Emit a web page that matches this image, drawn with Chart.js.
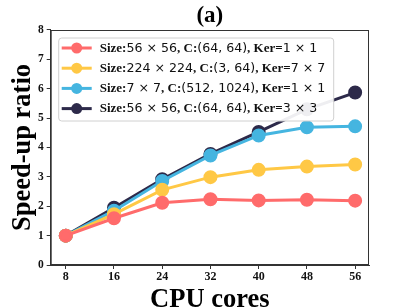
<!DOCTYPE html>
<html>
<head>
<meta charset="utf-8">
<script src="https://cdn.jsdelivr.net/npm/chart.js@4"></script>
<style>
  html, body { margin: 0; padding: 0; background: #fff; }
  #wrap { width: 411px; height: 308px; }
</style>
</head>
<body>
<div id="wrap"><canvas id="speedChart" width="411" height="308"></canvas></div>
<script>
// data
var cores = [8, 16, 24, 32, 40, 48, 56];
var conv1x1 = [1, 1.59, 2.12, 2.24, 2.20, 2.22, 2.19];
var conv7x7 = [1, 1.73, 2.56, 2.99, 3.24, 3.35, 3.42];
var conv7big = [1, 1.85, 2.86, 3.73, 4.41, 4.69, 4.72];
var conv3x3 = [1, 1.95, 2.92, 3.78, 4.53, 5.30, 5.87];
var yTicks = [0, 1, 2, 3, 4, 5, 6, 7, 8];

var colors = ['#FF6B6B', '#FFC845', '#45B5E0', '#2D2A4A'];
// legend labels, split into [text, isMath] pieces (math parts use a sans font)
var legendParts = [
  [['Size:', 0], ['56 \u00d7 56', 1], [', C:', 0], ['(64, 64)', 1], [', Ker=', 0], ['1 \u00d7 1', 1]],
  [['Size:', 0], ['224 \u00d7 224', 1], [', C:', 0], ['(3, 64)', 1], [', Ker=', 0], ['7 \u00d7 7', 1]],
  [['Size:', 0], ['7 \u00d7 7', 1], [', C:', 0], ['(512, 1024)', 1], [', Ker=', 0], ['1 \u00d7 1', 1]],
  [['Size:', 0], ['56 \u00d7 56', 1], [', C:', 0], ['(64, 64)', 1], [', Ker=', 0], ['3 \u00d7 3', 1]]
];
var seriesValues = [conv1x1, conv7x7, conv7big, conv3x3];

var serif = '"Liberation Serif", "Times New Roman", serif';

function toPoints(vals) {
  return vals.map(function (v, i) { return { x: cores[i], y: v }; });
}

var datasets = seriesValues.map(function (vals, i) {
  return {
    label: legendParts[i].map(function (p) { return p[0]; }).join(''),
    data: toPoints(vals),
    borderColor: colors[i],
    backgroundColor: colors[i],
    pointBackgroundColor: colors[i],
    pointBorderColor: colors[i],
    borderWidth: 3,
    pointRadius: 5.5,
    pointHoverRadius: 5.5,
    tension: 0
  };
});

// box around the whole plot + legend drawn inside, like matplotlib
var framePlugin = {
  id: 'frame',
  afterDraw: function (chart) {
    var ctx = chart.ctx, a = chart.chartArea;
    ctx.save();
    ctx.strokeStyle = '#333';
    ctx.lineWidth = 1;
    ctx.strokeRect(a.left + 0.5, a.top + 0.5, a.right - a.left - 1, a.bottom - a.top - 1);

    // legend
    var bx = a.left + 8, by = a.top + 8, bw = 275, bh = 83;
    ctx.globalAlpha = 0.92;
    ctx.fillStyle = '#fff';
    ctx.beginPath();
    ctx.roundRect(bx, by, bw, bh, 3);
    ctx.fill();
    ctx.globalAlpha = 1;
    ctx.strokeStyle = '#d0d0d0';
    ctx.lineWidth = 1;
    ctx.stroke();

    for (var i = 0; i < legendParts.length; i++) {
      var ry = by + 10 + i * 20.2;
      ctx.strokeStyle = colors[i];
      ctx.fillStyle = colors[i];
      ctx.lineWidth = 3;
      ctx.beginPath();
      ctx.moveTo(bx + 3, ry);
      ctx.lineTo(bx + 33, ry);
      ctx.stroke();
      ctx.beginPath();
      ctx.arc(bx + 18, ry, 5.5, 0, Math.PI * 2);
      ctx.fill();

      var tx = bx + 41;
      ctx.fillStyle = '#111';
      ctx.textBaseline = 'middle';
      legendParts[i].forEach(function (p) {
        ctx.font = p[1] ? '12.6px "DejaVu Sans"' : 'bold 13px ' + serif;
        ctx.fillText(p[0], tx, ry + 0.5);
        tx += ctx.measureText(p[0]).width;
      });
    }
    ctx.restore();
  }
};

var ctx = document.getElementById('speedChart').getContext('2d');
var chart = new Chart(ctx, {
  type: 'line',
  data: { datasets: datasets },
  options: {
    responsive: false,
    animation: false,
    layout: { padding: { left: 0, right: 42, top: 0, bottom: 0 } },
    plugins: {
      legend: { display: false },
      tooltip: { enabled: false },
      title: {
        display: true,
        fullSize: false,
        text: '(a)',
        color: '#000',
        font: { family: serif, size: 23, weight: 'bold', lineHeight: 1.2 },
        padding: { top: 2, bottom: 0.4 }
      }
    },
    scales: {
      x: {
        type: 'linear',
        min: 5.5,
        max: 58.3,
        afterBuildTicks: function (s) { s.ticks = cores.map(function (c) { return { value: c }; }); },
        afterFit: function (s) { s.height = 43; },
        grid: { drawOnChartArea: false, drawTicks: true, tickLength: 4, color: '#333' },
        border: { color: '#333', width: 1 },
        ticks: { color: '#111', font: { family: serif, size: 12, weight: 'bold', lineHeight: 1 }, padding: 2, maxRotation: 0 },
        title: {
          display: true,
          text: 'CPU cores',
          color: '#000',
          font: { family: serif, size: 26.5, weight: 'bold', lineHeight: 0.58 },
          padding: { top: 0, bottom: 0 }
        }
      },
      y: {
        min: 0,
        max: 8,
        afterBuildTicks: function (s) { s.ticks = yTicks.map(function (v) { return { value: v }; }); },
        afterFit: function (s) { s.width = 50.7; },
        grid: { drawOnChartArea: false, drawTicks: true, tickLength: 4, color: '#333' },
        border: { color: '#333', width: 1 },
        ticks: { color: '#111', font: { family: serif, size: 11.5, weight: 'bold' }, padding: 3 },
        title: {
          display: true,
          text: 'Speed-up ratio',
          color: '#000',
          font: { family: serif, size: 26.5, weight: 'bold', lineHeight: 1 },
          padding: { top: 10, bottom: 0 }
        }
      }
    }
  },
  plugins: [framePlugin]
});
</script>
</body>
</html>
